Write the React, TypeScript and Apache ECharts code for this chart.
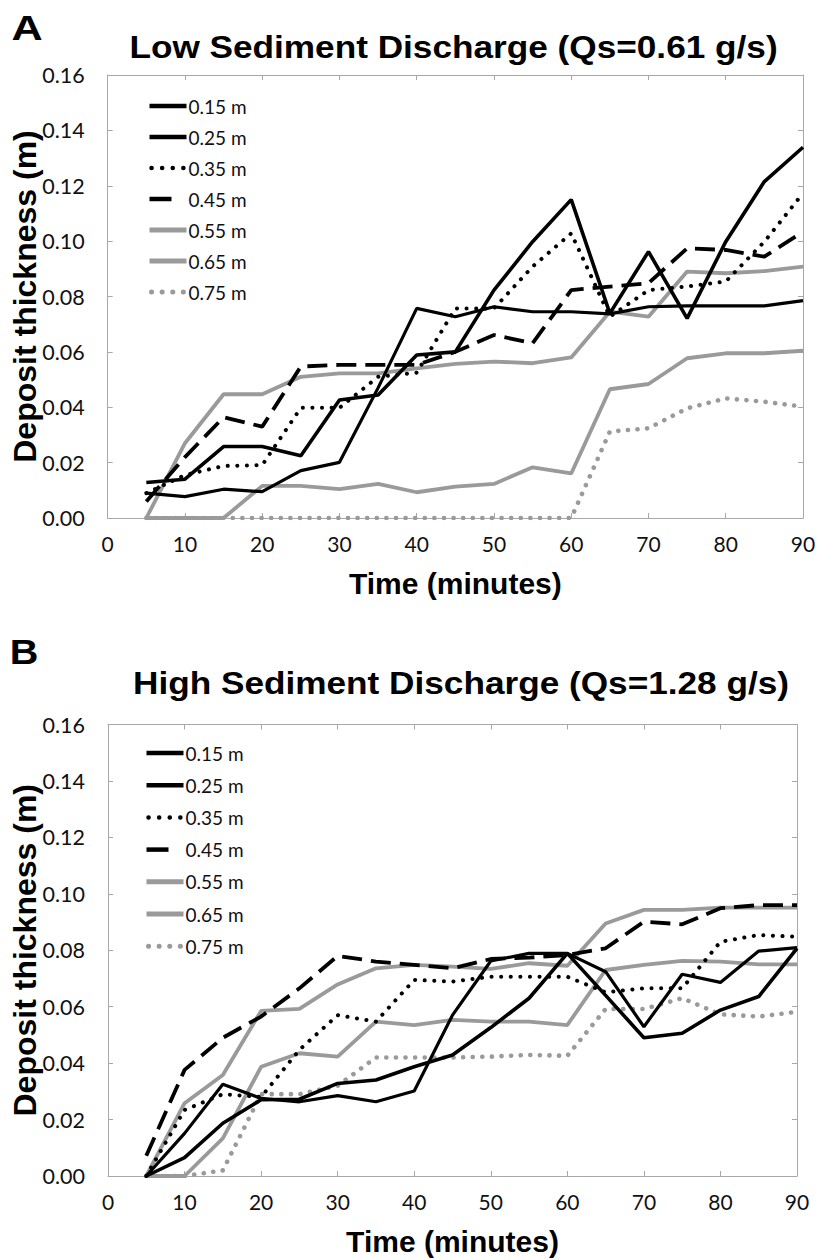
import React, { useEffect, useRef } from "react";
import * as echarts from "echarts";

// ---- Data ----
const TIME = [5, 10, 15, 20, 25, 30, 35, 40, 45, 50, 55, 60, 65, 70, 75, 80, 85, 90];
const SERIES_NAMES = ["0.15 m", "0.25 m", "0.35 m", "0.45 m", "0.55 m", "0.65 m", "0.75 m"];
const X_TICKS = [0, 10, 20, 30, 40, 50, 60, 70, 80, 90];
const Y_TICKS = [0, 0.02, 0.04, 0.06, 0.08, 0.1, 0.12, 0.14, 0.16];

// Panel A: Low sediment discharge (Qs = 0.61 g/s)
const A_015 = [0.009, 0.0077, 0.0104, 0.0095, 0.0171, 0.0201, 0.047, 0.0757, 0.0727, 0.0763, 0.0745, 0.0745, 0.0737, 0.0763, 0.0766, 0.0766, 0.0766, 0.0785];
const A_025 = [0.0128, 0.014, 0.0258, 0.0258, 0.0225, 0.0426, 0.0444, 0.0589, 0.06, 0.0823, 0.0998, 0.115, 0.0739, 0.0962, 0.0721, 0.0998, 0.1215, 0.1339];
const A_035 = [0.009, 0.0155, 0.0188, 0.0191, 0.0398, 0.0398, 0.051, 0.0525, 0.0757, 0.0757, 0.0908, 0.1028, 0.0727, 0.0823, 0.0836, 0.0854, 0.0998, 0.1173];
const A_045 = [0.006, 0.022, 0.0364, 0.033, 0.0547, 0.0553, 0.0553, 0.0553, 0.06, 0.0661, 0.0631, 0.0823, 0.0836, 0.0848, 0.0974, 0.0968, 0.0944, 0.1034];
const A_055 = [0, 0.027, 0.0447, 0.0447, 0.051, 0.0522, 0.0522, 0.054, 0.0557, 0.0565, 0.0559, 0.058, 0.0745, 0.0727, 0.089, 0.0884, 0.0892, 0.0908];
const A_065 = [0, 0, 0, 0.0116, 0.0116, 0.0104, 0.0123, 0.0093, 0.0113, 0.0123, 0.0183, 0.0161, 0.0465, 0.0484, 0.0577, 0.0595, 0.0595, 0.0604];
const A_075 = [0, 0, 0, 0, 0, 0, 0, 0, 0, 0, 0, 0, 0.0312, 0.0324, 0.0396, 0.0432, 0.042, 0.0402];

// Panel B: High sediment discharge (Qs = 1.28 g/s)
const B_015 = [0, 0.0151, 0.0325, 0.0275, 0.0263, 0.0285, 0.0263, 0.0301, 0.057, 0.0762, 0.0789, 0.0789, 0.0724, 0.0529, 0.0715, 0.0686, 0.0797, 0.0809];
const B_025 = [0, 0.0065, 0.0187, 0.027, 0.0272, 0.0328, 0.034, 0.0387, 0.0429, 0.0526, 0.063, 0.0789, 0.064, 0.049, 0.0506, 0.0588, 0.0636, 0.0807];
const B_035 = [0, 0.0234, 0.029, 0.028, 0.0447, 0.057, 0.0547, 0.0695, 0.0689, 0.0706, 0.0706, 0.0706, 0.0651, 0.0665, 0.0665, 0.083, 0.0854, 0.0848];
const B_045 = [0.0072, 0.0376, 0.049, 0.0565, 0.0665, 0.078, 0.076, 0.0748, 0.0736, 0.0769, 0.0774, 0.0783, 0.0807, 0.0901, 0.0892, 0.0949, 0.096, 0.096];
const B_055 = [0, 0.0258, 0.0358, 0.0585, 0.0592, 0.0679, 0.0736, 0.0748, 0.0742, 0.0734, 0.0754, 0.0745, 0.0895, 0.0943, 0.0943, 0.0951, 0.0951, 0.0951];
const B_065 = [0, 0, 0.0133, 0.0387, 0.0435, 0.0423, 0.0547, 0.0535, 0.0553, 0.0547, 0.0547, 0.0535, 0.073, 0.0748, 0.0762, 0.076, 0.075, 0.075];
const B_075 = [0, 0, 0.002, 0.029, 0.029, 0.032, 0.042, 0.042, 0.042, 0.0423, 0.0429, 0.0426, 0.0592, 0.0592, 0.063, 0.0573, 0.0565, 0.0582];

const PANEL_A = [A_015, A_025, A_035, A_045, A_055, A_065, A_075];
const PANEL_B = [B_015, B_025, B_035, B_045, B_055, B_065, B_075];

const TITLE_A = "Low Sediment Discharge (Qs=0.61 g/s)";
const TITLE_B = "High Sediment Discharge (Qs=1.28 g/s)";
const X_NAME = "Time (minutes)";
const Y_NAME = "Deposit thickness (m)";

// ---- Styles ----
const BLACK = "#000000";
const GRAY = "#9a9a9a";
const AXIS_GRAY = "#a8a8a8";
const LINE_STYLES: any[] = [
  { color: BLACK, width: 3.2, type: "solid" },
  { color: BLACK, width: 3.6, type: "solid" },
  { color: BLACK, width: 4, type: [0.1, 9.5], cap: "round" },
  { color: BLACK, width: 3.8, type: [20, 9], cap: "butt" },
  { color: GRAY, width: 3.8, type: "solid" },
  { color: GRAY, width: 3.8, type: "solid" },
  { color: GRAY, width: 4.6, type: [0.1, 9.5], cap: "round" },
];
const LEGEND_LINE_STYLES: any[] = [
  { color: BLACK, width: 4.5, type: "solid" },
  { color: BLACK, width: 4.5, type: "solid" },
  { color: BLACK, width: 4.5, type: [0.1, 10.5], cap: "round", dashOffset: -2 },
  { color: BLACK, width: 4.5, type: [22, 30], cap: "butt" },
  { color: GRAY, width: 5, type: "solid" },
  { color: GRAY, width: 5, type: "solid" },
  { color: GRAY, width: 5, type: [0.1, 10.5], cap: "round", dashOffset: -2 },
];

const TICK_FONT = "Lato";
const BOLD_FONT = "Liberation Sans";

function makeXAxes(gridIndex: number) {
  const common = {
    type: "value",
    gridIndex,
    min: X_TICKS[0],
    max: X_TICKS[X_TICKS.length - 1],
    interval: X_TICKS[1] - X_TICKS[0],
    splitLine: { show: false },
    axisLine: { show: true, onZero: false, lineStyle: { color: AXIS_GRAY, width: 1 } },
    axisTick: { show: true, inside: true, length: 5, lineStyle: { color: AXIS_GRAY, width: 1 } },
  };
  return [
    {
      ...common,
      position: "bottom",
      name: X_NAME,
      nameLocation: "middle",
      nameGap: 50,
      nameMoveOverlap: false,
      nameTextStyle: { fontFamily: BOLD_FONT, fontWeight: "bold", fontSize: 30, color: BLACK },
      axisLabel: { fontFamily: TICK_FONT, fontSize: 21, color: "#111", margin: 15 },
    },
    { ...common, position: "top", axisLabel: { show: false } },
  ];
}

function makeYAxes(gridIndex: number) {
  const common = {
    type: "value",
    gridIndex,
    min: Y_TICKS[0],
    max: Y_TICKS[Y_TICKS.length - 1],
    interval: 0.02,
    splitLine: { show: false },
    axisLine: { show: true, onZero: false, lineStyle: { color: AXIS_GRAY, width: 1 } },
    axisTick: { show: true, inside: true, length: 5, lineStyle: { color: AXIS_GRAY, width: 1 } },
  };
  return [
    {
      ...common,
      position: "left",
      name: Y_NAME,
      nameLocation: "middle",
      nameGap: 67,
      nameMoveOverlap: false,
      nameTextStyle: { fontFamily: BOLD_FONT, fontWeight: "bold", fontSize: 32, color: BLACK },
      axisLabel: {
        fontFamily: TICK_FONT,
        fontSize: 21.5,
        color: "#111",
        margin: 23,
        formatter: (v: number) => v.toFixed(2),
      },
    },
    { ...common, position: "right", axisLabel: { show: false } },
  ];
}

function makeSeries(panel: number[][], axisIndex: number) {
  return panel.map((vals, i) => ({
    type: "line",
    name: SERIES_NAMES[i],
    xAxisIndex: axisIndex,
    yAxisIndex: axisIndex,
    data: TIME.map((t, j) => [t, vals[j]]),
    symbol: "none",
    showSymbol: false,
    color: LINE_STYLES[i].color,
    itemStyle: { color: LINE_STYLES[i].color },
    lineStyle: LINE_STYLES[i],
    z: 10 - i,
  }));
}

function makeLegend(left: number, top: number, gap: number) {
  return {
    orient: "vertical",
    left,
    top,
    padding: 0,
    itemWidth: 37,
    itemHeight: 14,
    itemGap: gap,
    selectedMode: false,
    itemStyle: { opacity: 0 },
    data: SERIES_NAMES.map((name, i) => ({
      name,
      itemStyle: { opacity: 0 },
      lineStyle: LEGEND_LINE_STYLES[i],
    })),
    textStyle: { fontFamily: TICK_FONT, fontSize: 19, color: "#111", lineHeight: 20, padding: [0, 0, 0, -3] },
  };
}

export default function App() {
  const ref = useRef<HTMLDivElement>(null);
  useEffect(() => {
    if (!ref.current) return;
    const chart = echarts.init(ref.current, null, { renderer: "svg" });
    const option: any = {
      animation: false,
      backgroundColor: "#ffffff",
      grid: [
        { left: 107.7, top: 75, width: 695.3, height: 443, containLabel: false, outerBoundsMode: "none" },
        { left: 108, top: 724.5, width: 689, height: 451.5, containLabel: false, outerBoundsMode: "none" },
      ],
      xAxis: [...makeXAxes(0), ...makeXAxes(1)],
      yAxis: [...makeYAxes(0), ...makeYAxes(1)],
      legend: [makeLegend(147, 96, 11), makeLegend(144, 743, 12.2)],
      series: [...makeSeries(PANEL_A, 0), ...makeSeries(PANEL_B, 2)],
      graphic: [
        {
          type: "text",
          x: 27,
          y: 27,
          scaleX: 1.2,
          style: { text: "A", font: `bold 36px "${BOLD_FONT}"`, fill: BLACK, align: "center", verticalAlign: "middle" },
        },
        {
          type: "text",
          x: 453.5,
          y: 47,
          scaleX: 1.1,
          style: { text: TITLE_A, font: `bold 32px "${BOLD_FONT}"`, fill: BLACK, align: "center", verticalAlign: "middle" },
        },
        {
          type: "text",
          x: 24,
          y: 652,
          scaleX: 1.1,
          style: { text: "B", font: `bold 36px "${BOLD_FONT}"`, fill: BLACK, align: "center", verticalAlign: "middle" },
        },
        {
          type: "text",
          x: 461,
          y: 683,
          scaleX: 1.1,
          style: { text: TITLE_B, font: `bold 32px "${BOLD_FONT}"`, fill: BLACK, align: "center", verticalAlign: "middle" },
        },
      ],
    };
    chart.setOption(option);
    return () => chart.dispose();
  }, []);
  return (
    <div
      ref={ref}
      style={{ position: "absolute", left: 0, top: 0, width: 817, height: 1260, background: "#fff" }}
    />
  );
}
